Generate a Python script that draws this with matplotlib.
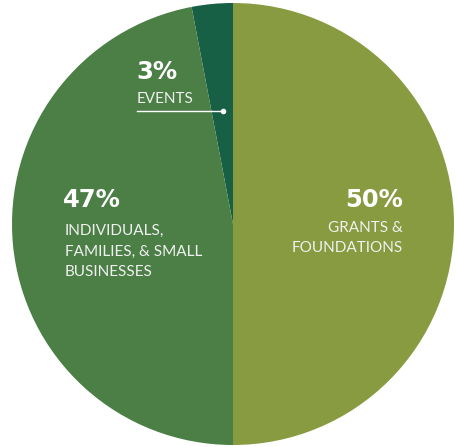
import matplotlib.pyplot as plt

# dati
categories = ['EVENTS', 'INDIVIDUALS,\nFAMILIES, & SMALL\nBUSINESSES', 'GRANTS &\nFOUNDATIONS']
shares = [3, 47, 50]
colors = ['#175f45', '#4b7f46', '#889b40']

W, H = 457, 447
fig = plt.figure(figsize=(W / 100, H / 100), dpi=100)
ax = fig.add_axes([0, 0, 1, 1])

# torta: asse y invertito, quindi gli angoli sono specchiati
ax.pie(shares, colors=colors, startangle=-90, counterclock=False,
       center=(233, 224), radius=221, frame=True,
       wedgeprops={'linewidth': 0})
ax.set_xlim(0, W)
ax.set_ylim(H, 0)
ax.set_aspect('equal')
ax.axis('off')

big = dict(color='white', fontsize=17.5, fontweight='bold', family='DejaVu Sans', va='baseline')
small = dict(color='#f0f0f0', fontsize=11, family='Lato', va='baseline')

# 3% eventi
ax.text(136, 79, f'{shares[0]}%', ha='left', **big)
ax.text(137, 103, categories[0], ha='left', **small)
ax.plot([137, 223], [111, 111], color='white', lw=1)
ax.plot([223], [111], 'o', color='white', ms=3)

# 47% individui
ax.text(63, 207, f'{shares[1]}%', ha='left', **big)
for i, line in enumerate(categories[1].split('\n')):
    ax.text(65, 235 + i * 20.5, line, ha='left', **small)

# 50% fondazioni
ax.text(403, 207, f'{shares[2]}%', ha='right', **big)
for i, line in enumerate(categories[2].split('\n')):
    ax.text(403, 232 + i * 20, line, ha='right', **small)

fig.savefig('out.png', dpi=100, facecolor='white')
